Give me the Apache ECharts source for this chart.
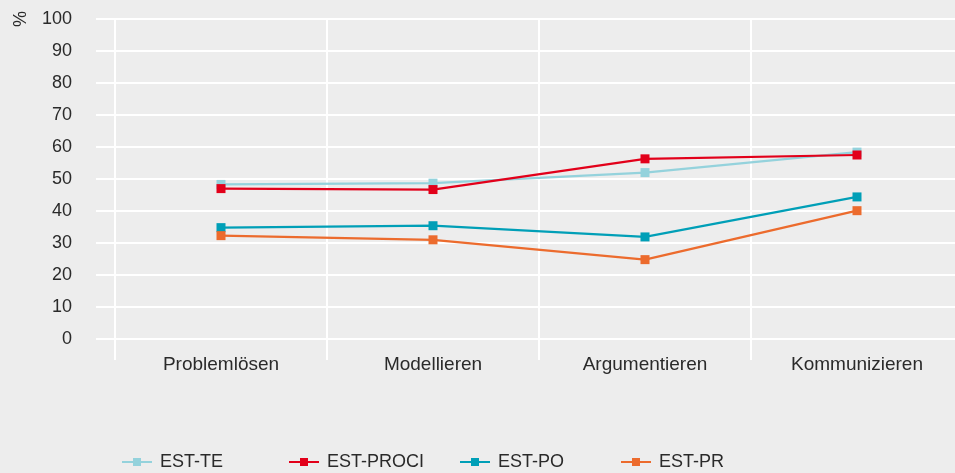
<!DOCTYPE html>
<html>
<head>
<meta charset="utf-8">
<script src="https://cdn.jsdelivr.net/npm/echarts@6/dist/echarts.min.js"></script>
<style>
html,body{margin:0;padding:0;background:#ededed;overflow:hidden;}
#c{width:963px;height:473px;}
</style>
</head>
<body>
<div id="c"></div>
<script>
var categories = ['Problemlösen', 'Modellieren', 'Argumentieren', 'Kommunizieren'];
var seriesNames = ['EST-TE', 'EST-PROCI', 'EST-PO', 'EST-PR'];
var estTE = [48.3, 48.7, 52.0, 58.4];
var estPROCI = [47.0, 46.7, 56.3, 57.5];
var estPO = [34.8, 35.4, 31.9, 44.4];
var estPR = [32.3, 31.0, 24.8, 40.1];
var yTicks = [0, 10, 20, 30, 40, 50, 60, 70, 80, 90, 100];
var colors = ['#94d2dc', '#e2001a', '#009fb7', '#ec6b2d'];
var legendLeft = [121, 288, 459, 620];

var dataSets = [estTE, estPROCI, estPO, estPR];
var chart = echarts.init(document.getElementById('c'));
var font = 'Liberation Sans, Arial, Helvetica, sans-serif';
var txt = '#2a2a2a';

var series = dataSets.map(function (d, i) {
  return {
    name: seriesNames[i],
    type: 'line',
    data: d,
    symbol: 'rect',
    symbolSize: 9,
    showSymbol: true,
    lineStyle: { width: 2.2, color: colors[i] },
    itemStyle: { color: colors[i] },
    z: 10 + (i === 1 ? 1 : 0),
    animation: false
  };
});

var legends = seriesNames.map(function (n, i) {
  return {
    data: [n],
    left: legendLeft[i],
    top: 453,
    itemWidth: 30,
    itemHeight: 10,
    textStyle: { fontFamily: font, fontSize: 18, color: txt, padding: [0, 0, 0, 3] },
    padding: 0,
    selectedMode: false
  };
});

chart.setOption({
  backgroundColor: '#ededed',
  animation: false,
  color: colors,
  grid: { left: 115, right: 0, top: 19, height: 320, containLabel: false },
  legend: legends,
  graphic: [{
    type: 'text',
    left: 9,
    top: 11,
    rotation: -Math.PI / 2,
    originX: 0, originY: 0,
    style: { text: '%', fontFamily: font, fontSize: 18, fill: txt }
  }],
  xAxis: {
    type: 'category',
    data: categories,
    boundaryGap: true,
    axisLine: { show: false },
    axisTick: { show: true, length: 21, lineStyle: { color: '#ffffff', width: 2 } },
    splitLine: { show: true, lineStyle: { color: '#ffffff', width: 2 } },
    axisLabel: { fontFamily: font, fontSize: 19, color: txt, margin: 16 }
  },
  yAxis: {
    type: 'value',
    min: 0,
    max: 100,
    interval: 10,
    axisLine: { show: false },
    axisTick: { show: true, length: 19, lineStyle: { color: '#ffffff', width: 2 } },
    splitLine: { show: true, lineStyle: { color: '#ffffff', width: 2 } },
    axisLabel: {
      fontFamily: font, fontSize: 18, color: txt, margin: 43,
      formatter: function (v) { return yTicks.indexOf(v) >= 0 ? String(v) : ''; }
    }
  },
  series: series
});
</script>
</body>
</html>
